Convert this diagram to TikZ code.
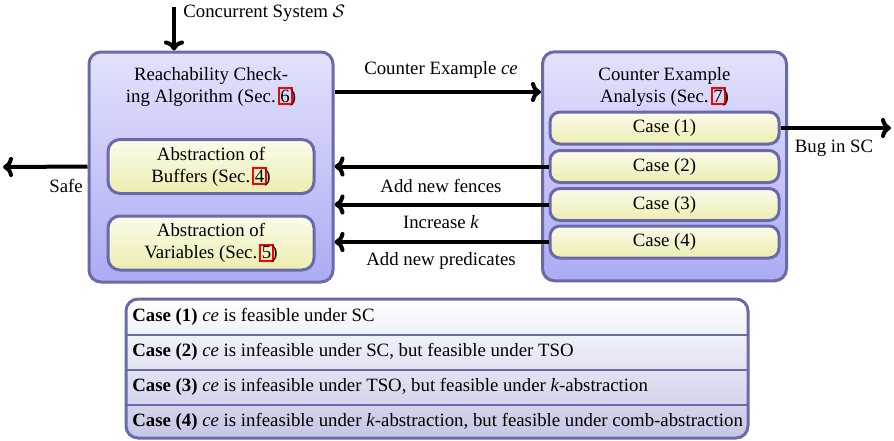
\documentclass[tikz,border=0pt]{standalone}
\usepackage{fontspec}
\setmainfont{Liberation Serif}
\usetikzlibrary{arrows.meta}

\definecolor{boxline}{HTML}{6A6AAA}
\definecolor{outertop}{HTML}{E2E2FD}
\definecolor{outerbot}{HTML}{ABABF3}
\definecolor{innertop}{HTML}{FBFBEC}
\definecolor{innerbot}{HTML}{EDEDB0}
\definecolor{tabtop}{HTML}{FFFFFF}
\definecolor{tabbot}{HTML}{C6C6E6}

% section number with a red link frame drawn over it (takes no extra width)
\newcommand\secnum[1]{\makebox[0pt][l]{\kern-1.4pt\textcolor{red}{\setlength\fboxsep{0.4pt}\setlength\fboxrule{1pt}\fbox{\phantom{#1}}}}#1}

\begin{document}
\begin{tikzpicture}[x=0.5pt,y=-0.5pt,
  font=\rmfamily\fontsize{9.4}{11}\selectfont,
  bigbox/.style={draw=boxline, line width=1.5pt, rounded corners=6pt,
    top color=outertop, bottom color=outerbot},
  absbox/.style={draw=boxline, line width=1.5pt, rounded corners=6pt,
    top color=innertop, bottom color=innerbot, align=center,
    minimum width=103pt, minimum height=27pt, inner sep=0pt},
  casebox/.style={draw=boxline, line width=1.5pt, rounded corners=5pt,
    top color=innertop, bottom color=innerbot,
    minimum width=114.5pt, minimum height=16pt, inner sep=0pt},
  titletext/.style={align=center, inner sep=0pt},
  lbl/.style={inner sep=0pt},
  rowtext/.style={anchor=west, inner sep=0pt},
  arr/.style={line width=2pt, -{To[length=5pt,width=10pt]}},
  rowline/.style={draw=boxline, line width=1pt}]

\useasboundingbox (0,0) rectangle (894,440);

% reachability checking part
\node[bigbox, minimum width=122pt, minimum height=115pt] (rc) at (211,167) {};
\node[titletext] (rctitle) at (211,87) {Reachability Check-\\ing Algorithm (Sec.~\secnum{6})};
\node[absbox] (buf) at (211,166.5) {Abstraction of\\Buffers (Sec.~\secnum{4})};
\node[absbox] (var) at (211,243) {Abstraction of\\Variables (Sec.~\secnum{5})};

% counter example analysis part
\node[bigbox, minimum width=122pt, minimum height=114.5pt] (ca) at (664.5,166.3) {};
\node[titletext] (catitle) at (664.5,87) {Counter Example\\Analysis (Sec.~\secnum{7})};
\node[casebox] (c1) at (664.5,128) {Case (1)};
\node[casebox] (c2) at (664.5,166.5) {Case (2)};
\node[casebox] (c3) at (664.5,204.5) {Case (3)};
\node[casebox] (c4) at (664.5,242) {Case (4)};

% free ends of the outer arrows
\coordinate (sysin) at (174,7);
\coordinate (ceY) at (0,92);
\coordinate (safeout) at (3,167);
\coordinate (bugout) at (891,128);

\draw[arr] (sysin) -- (sysin |- rc.north);
\node[lbl, anchor=west] (syslbl) at (183,13) {Concurrent System $\mathcal{S}$};

\draw[arr] (rc.east |- ceY) -- (ca.west |- ceY);
\node[lbl] (celbl) at (441,70) {Counter Example \textit{ce}};

\draw[arr] (c1.east) -- (bugout);
\node[lbl] (buglbl) at (834,148) {Bug in SC};

\draw[arr] (c2.west) -- (c2.west -| rc.east);
\node[lbl] (fencelbl) at (441,186) {Add new fences};
\draw[arr] (c3.west) -- (c3.west -| rc.east);
\node[lbl] (klbl) at (441,222) {Increase \textit{k}};
\draw[arr] (c4.west) -- (c4.west -| rc.east);
\node[lbl] (predlbl) at (441,261) {Add new predicates};

\draw[arr] (rc.west |- buf) -- (safeout);
\node[lbl] (safelbl) at (66,186) {Safe};

% legend table of the cases
\node[draw=boxline, line width=1.5pt, rounded corners=6pt, top color=tabtop,
  bottom color=tabbot, minimum width=311pt, minimum height=69.5pt] (tab) at (437,368.5) {};
\draw[rowline] (126,334.5) -- (748,334.5);
\draw[rowline] (126,369.5) -- (748,369.5);
\draw[rowline] (126,404.5) -- (748,404.5);
\node[rowtext] (r1) at (132,317) {\textbf{Case (1)} \textit{ce} is feasible under SC};
\node[rowtext] (r2) at (132,352) {\textbf{Case (2)} \textit{ce} is infeasible under SC, but feasible under TSO};
\node[rowtext] (r3) at (132,387) {\textbf{Case (3)} \textit{ce} is infeasible under TSO, but feasible under \textit{k}-abstraction};
\node[rowtext] (r4) at (132,421.5) {\textbf{Case (4)} \textit{ce} is infeasible under \textit{k}-abstraction, but feasible under comb-abstraction};
\end{tikzpicture}
\end{document}
